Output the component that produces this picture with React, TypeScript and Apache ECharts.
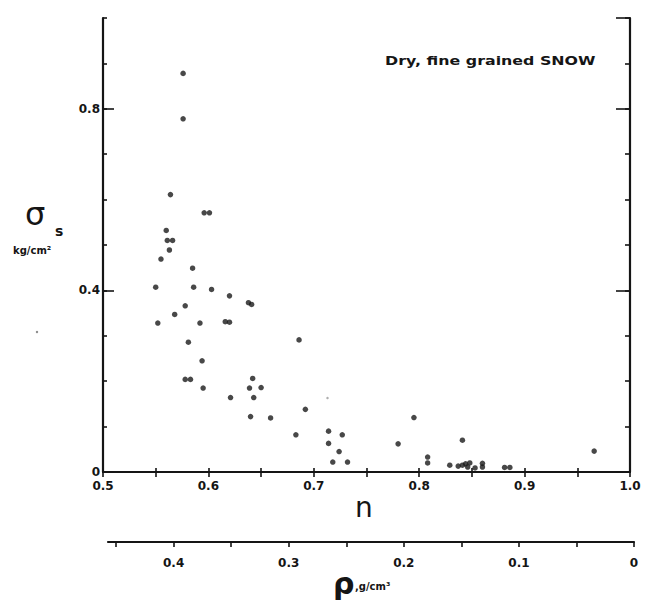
import React, { useEffect, useRef } from "react";
import * as echarts from "echarts";

// Porosity n (x) and shear strength sigma_s in kg/cm^2 (y)
const porosity = [
  0.576, 0.576, 0.564, 0.596, 0.601, 0.560, 0.561, 0.566, 0.563, 0.555,
  0.585, 0.550, 0.586, 0.603, 0.620, 0.638, 0.641, 0.578, 0.568, 0.552,
  0.592, 0.616, 0.620, 0.581, 0.594, 0.578, 0.583, 0.595, 0.642, 0.639,
  0.650, 0.621, 0.643, 0.686, 0.640, 0.659, 0.683, 0.692, 0.714, 0.727,
  0.714, 0.724, 0.718, 0.732, 0.795, 0.780, 0.841, 0.808, 0.808, 0.829,
  0.837, 0.841, 0.844, 0.848, 0.846, 0.853, 0.860, 0.860, 0.881, 0.886,
  0.966,
];
const strength = [
  0.878, 0.778, 0.611, 0.571, 0.571, 0.532, 0.510, 0.510, 0.489, 0.469,
  0.449, 0.407, 0.407, 0.402, 0.388, 0.373, 0.369, 0.366, 0.347, 0.328,
  0.328, 0.331, 0.330, 0.286, 0.245, 0.204, 0.204, 0.185, 0.206, 0.185,
  0.186, 0.164, 0.164, 0.291, 0.122, 0.119, 0.082, 0.138, 0.090, 0.082,
  0.063, 0.045, 0.022, 0.022, 0.120, 0.062, 0.070, 0.033, 0.020, 0.015,
  0.013, 0.015, 0.018, 0.020, 0.011, 0.009, 0.019, 0.011, 0.010, 0.010,
  0.046,
];
// A very faint point
const faintPorosity = [0.713];
const faintStrength = [0.163];

const nTickLabels = ["0.5", "0.6", "0.7", "0.8", "0.9", "1.0"];
const sigmaTickLabels = ["0", "0.4", "0.8"];
const rhoTickLabels = ["0.4", "0.3", "0.2", "0.1", "0"];

const INK = "#151515";
const labelFont = { color: INK, fontWeight: "bold" as const, fontSize: 12, fontFamily: "DejaVu Sans" };

export default function App() {
  const ref = useRef<HTMLDivElement>(null);
  useEffect(() => {
    document.body.style.margin = "0";
    const chart = echarts.init(ref.current!, null, { renderer: "svg" });
    // show a label only where the tick value is an exact tenth listed in the label array
    const pick = (v: number, list: string[]) => {
      const hundredths = Math.round(v * 100);
      if (hundredths % 10 !== 0) return "";
      const s = hundredths === 0 ? "0" : (hundredths / 100).toFixed(1);
      return list.includes(s) ? s : "";
    };
    const lineStyle = { color: INK, width: 2.2 };
    const tickStyle = { color: INK, width: 1.6 };
    const option: any = {
      animation: false,
      backgroundColor: "#ffffff",
      grid: [
        { left: 103, right: 18, top: 18, height: 454 },
        { left: 108, right: 14, top: 537, height: 5 },
      ],
      xAxis: [
        {
          type: "value", gridIndex: 0, position: "bottom", min: 0.5, max: 1.0, interval: 0.05,
          axisLine: { lineStyle }, axisTick: { inside: true, length: 4, lineStyle: tickStyle },
          splitLine: { show: false },
          axisLabel: { ...labelFont, margin: 8, formatter: (v: number) => pick(v, nTickLabels) },
        },
        {
          type: "value", gridIndex: 0, position: "top", min: 0.5, max: 1.0, interval: 0.05,
          axisLine: { lineStyle }, axisTick: { inside: true, length: 5, lineStyle: tickStyle },
          splitLine: { show: false }, axisLabel: { show: false },
        },
        {
          type: "value", gridIndex: 1, position: "bottom", inverse: true, min: 0, max: 0.457, interval: 0.05,
          axisLine: { lineStyle }, axisTick: { inside: false, length: 5, lineStyle: tickStyle },
          splitLine: { show: false },
          axisLabel: { ...labelFont, margin: 15, showMaxLabel: false, formatter: (v: number) => pick(v, rhoTickLabels) },
        },
      ],
      yAxis: [
        {
          type: "value", gridIndex: 0, position: "left", min: 0, max: 1.0, interval: 0.1,
          axisLine: { lineStyle }, axisTick: { inside: true, length: 4, lineStyle: tickStyle },
          splitLine: { show: false }, axisLabel: { show: false },
        },
        {
          type: "value", gridIndex: 0, position: "left", min: 0, max: 1.0, interval: 0.4,
          axisLine: { show: false }, axisTick: { inside: true, length: 11, lineStyle: tickStyle },
          splitLine: { show: false },
          axisLabel: { ...labelFont, margin: 3, showMaxLabel: false, formatter: (v: number) => pick(v, sigmaTickLabels) },
        },
        {
          type: "value", gridIndex: 0, position: "right", min: 0, max: 1.0, interval: 0.1,
          axisLine: { lineStyle }, axisTick: { inside: true, length: 5, lineStyle: tickStyle },
          splitLine: { show: false }, axisLabel: { show: false },
        },
        {
          type: "value", gridIndex: 0, position: "right", min: 0, max: 1.0, interval: 0.4,
          axisLine: { show: false }, axisTick: { inside: true, length: 14, lineStyle: tickStyle },
          splitLine: { show: false }, axisLabel: { show: false },
        },
        { type: "value", gridIndex: 1, show: false, min: 0, max: 1 },
      ],
      series: [
        {
          type: "scatter", xAxisIndex: 0, yAxisIndex: 0, symbolSize: 5.5,
          itemStyle: { color: "#1a1a1a" },
          data: porosity.map((n, i) => [n, strength[i]]),
        },
        {
          type: "scatter", xAxisIndex: 0, yAxisIndex: 0, symbolSize: 2.5,
          itemStyle: { color: "#9a9a9a" },
          data: faintPorosity.map((n, i) => [n, faintStrength[i]]),
        },
      ],
      graphic: [
        {
          type: "text", x: 385, y: 55, scaleX: 1.32,
          style: { text: "Dry, fine grained SNOW", fill: INK, font: "bold 12px 'DejaVu Sans'" },
        },
        {
          type: "text", left: 355, top: 493,
          style: { text: "n", fill: INK, font: "28px 'DejaVu Sans'" },
        },
        {
          type: "text", left: 333, top: 568,
          style: { text: "ρ", fill: INK, font: "bold 30px 'DejaVu Sans'" },
        },
        {
          type: "text", left: 355, top: 581,
          style: { text: ",g/cm³", fill: INK, font: "bold 10px 'DejaVu Sans'" },
        },
        {
          type: "text", left: 25, top: 198,
          style: { text: "σ", fill: INK, font: "32px 'DejaVu Sans'" },
        },
        {
          type: "text", left: 55, top: 224,
          style: { text: "s", fill: INK, font: "bold 14px 'DejaVu Sans'" },
        },
        {
          type: "text", left: 13, top: 245,
          style: { text: "kg/cm²", fill: INK, font: "bold 10px 'DejaVu Sans'" },
        },
        { type: "circle", shape: { cx: 37, cy: 332, r: 1.2 }, style: { fill: "#888" } },
      ],
    };
    chart.setOption(option);
    return () => chart.dispose();
  }, []);
  return <div ref={ref} style={{ position: "fixed", left: 0, top: 0, width: 648, height: 603 }} />;
}
